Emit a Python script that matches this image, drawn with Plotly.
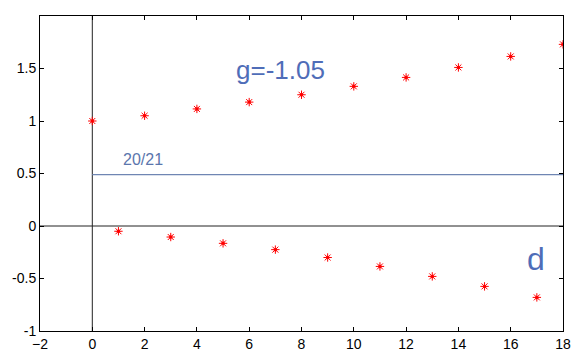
import plotly.graph_objects as go

# sequence terms
n = list(range(19))
values = [1.0, -0.05, 1.05, -0.105, 1.115, -0.165, 1.18, -0.225, 1.25, -0.30,
          1.33, -0.385, 1.415, -0.48, 1.51, -0.575, 1.615, -0.68, 1.73]

# reference level
level_x = [0, 18]
level_y = [0.49, 0.49]

x_ticks = list(range(-2, 19, 2))
y_ticks = [-1, -0.5, 0, 0.5, 1, 1.5]
y_tick_text = ["-1", "-0.5", "0", "0.5", "1", "1.5"]

fig = go.Figure()

# coordinate axes through the origin
fig.add_trace(go.Scatter(x=[0, 0], y=[-1, 2.0], mode="lines",
                         line=dict(color="#222222", width=1), hoverinfo="skip"))
fig.add_trace(go.Scatter(x=[-2, 18], y=[0, 0], mode="lines",
                         line=dict(color="#222222", width=1), hoverinfo="skip"))

fig.add_trace(go.Scatter(x=level_x, y=level_y, mode="lines",
                         line=dict(color="#6f86b3", width=1.2), hoverinfo="skip"))

fig.add_trace(go.Scatter(x=n, y=values, mode="markers",
                         marker=dict(symbol="asterisk-open", size=7,
                                     line=dict(color="red", width=1), color="red")))
fig.add_trace(go.Scatter(x=n, y=values, mode="markers",
                         marker=dict(symbol="circle", size=3.5, color="red")))

fig.add_annotation(x=7.2, y=1.49, text="g=-1.05", showarrow=False,
                   font=dict(size=26, color="#4f6db8", family="Liberation Sans"))
fig.add_annotation(x=1.95, y=0.63, text="20/21", showarrow=False,
                   font=dict(size=16, color="#5b76ad", family="Liberation Sans"))
fig.add_annotation(x=16.95, y=-0.31, text="d", showarrow=False,
                   font=dict(size=32, color="#4f6db8", family="Liberation Sans"))

axis_common = dict(showline=True, linecolor="black", linewidth=1, mirror="ticks",
                   ticks="inside", ticklen=4, tickcolor="black", showgrid=False,
                   zeroline=False, automargin=False,
                   tickfont=dict(size=14, color="black", family="Liberation Sans"))

fig.update_xaxes(range=[-2, 18], tickvals=x_ticks, **axis_common)
fig.update_yaxes(range=[-1, 2.0], tickvals=y_ticks, ticktext=y_tick_text, **axis_common)

fig.update_layout(width=576, height=352, showlegend=False,
                  margin=dict(l=40, r=13, t=16, b=21),
                  plot_bgcolor="white", paper_bgcolor="white")

fig.write_html("out.html")
